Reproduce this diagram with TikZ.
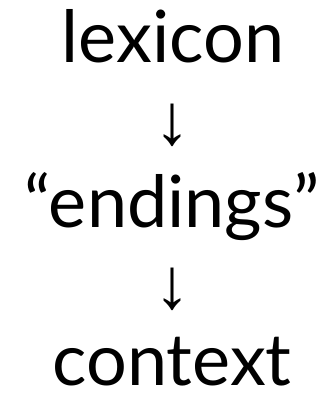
\documentclass[tikz,border=0pt]{standalone}
\usepackage{fontspec}
\setmainfont{Lato}
\newfontfamily\arrowfont{Liberation Serif}
\begin{document}
\begin{tikzpicture}[x=1pt,y=-1pt,
  word/.style={anchor=base,inner sep=0pt,font=\fontsize{72}{80}\selectfont},
  arrowglyph/.style={anchor=center,inner sep=0pt,font=\arrowfont\fontsize{72}{80}\selectfont}]
  \useasboundingbox (0,0) rectangle (328,394);
  \node[word] (lex) at (173,62) {lexicon};
  \node[arrowglyph] (a1) at (172.3,125) {↓};
  \node[word] (end) at (172,227) {“endings”};
  \node[arrowglyph] (a2) at (172,289) {↓};
  \node[word] (ctx) at (172,385) {context};
\end{tikzpicture}
\end{document}
